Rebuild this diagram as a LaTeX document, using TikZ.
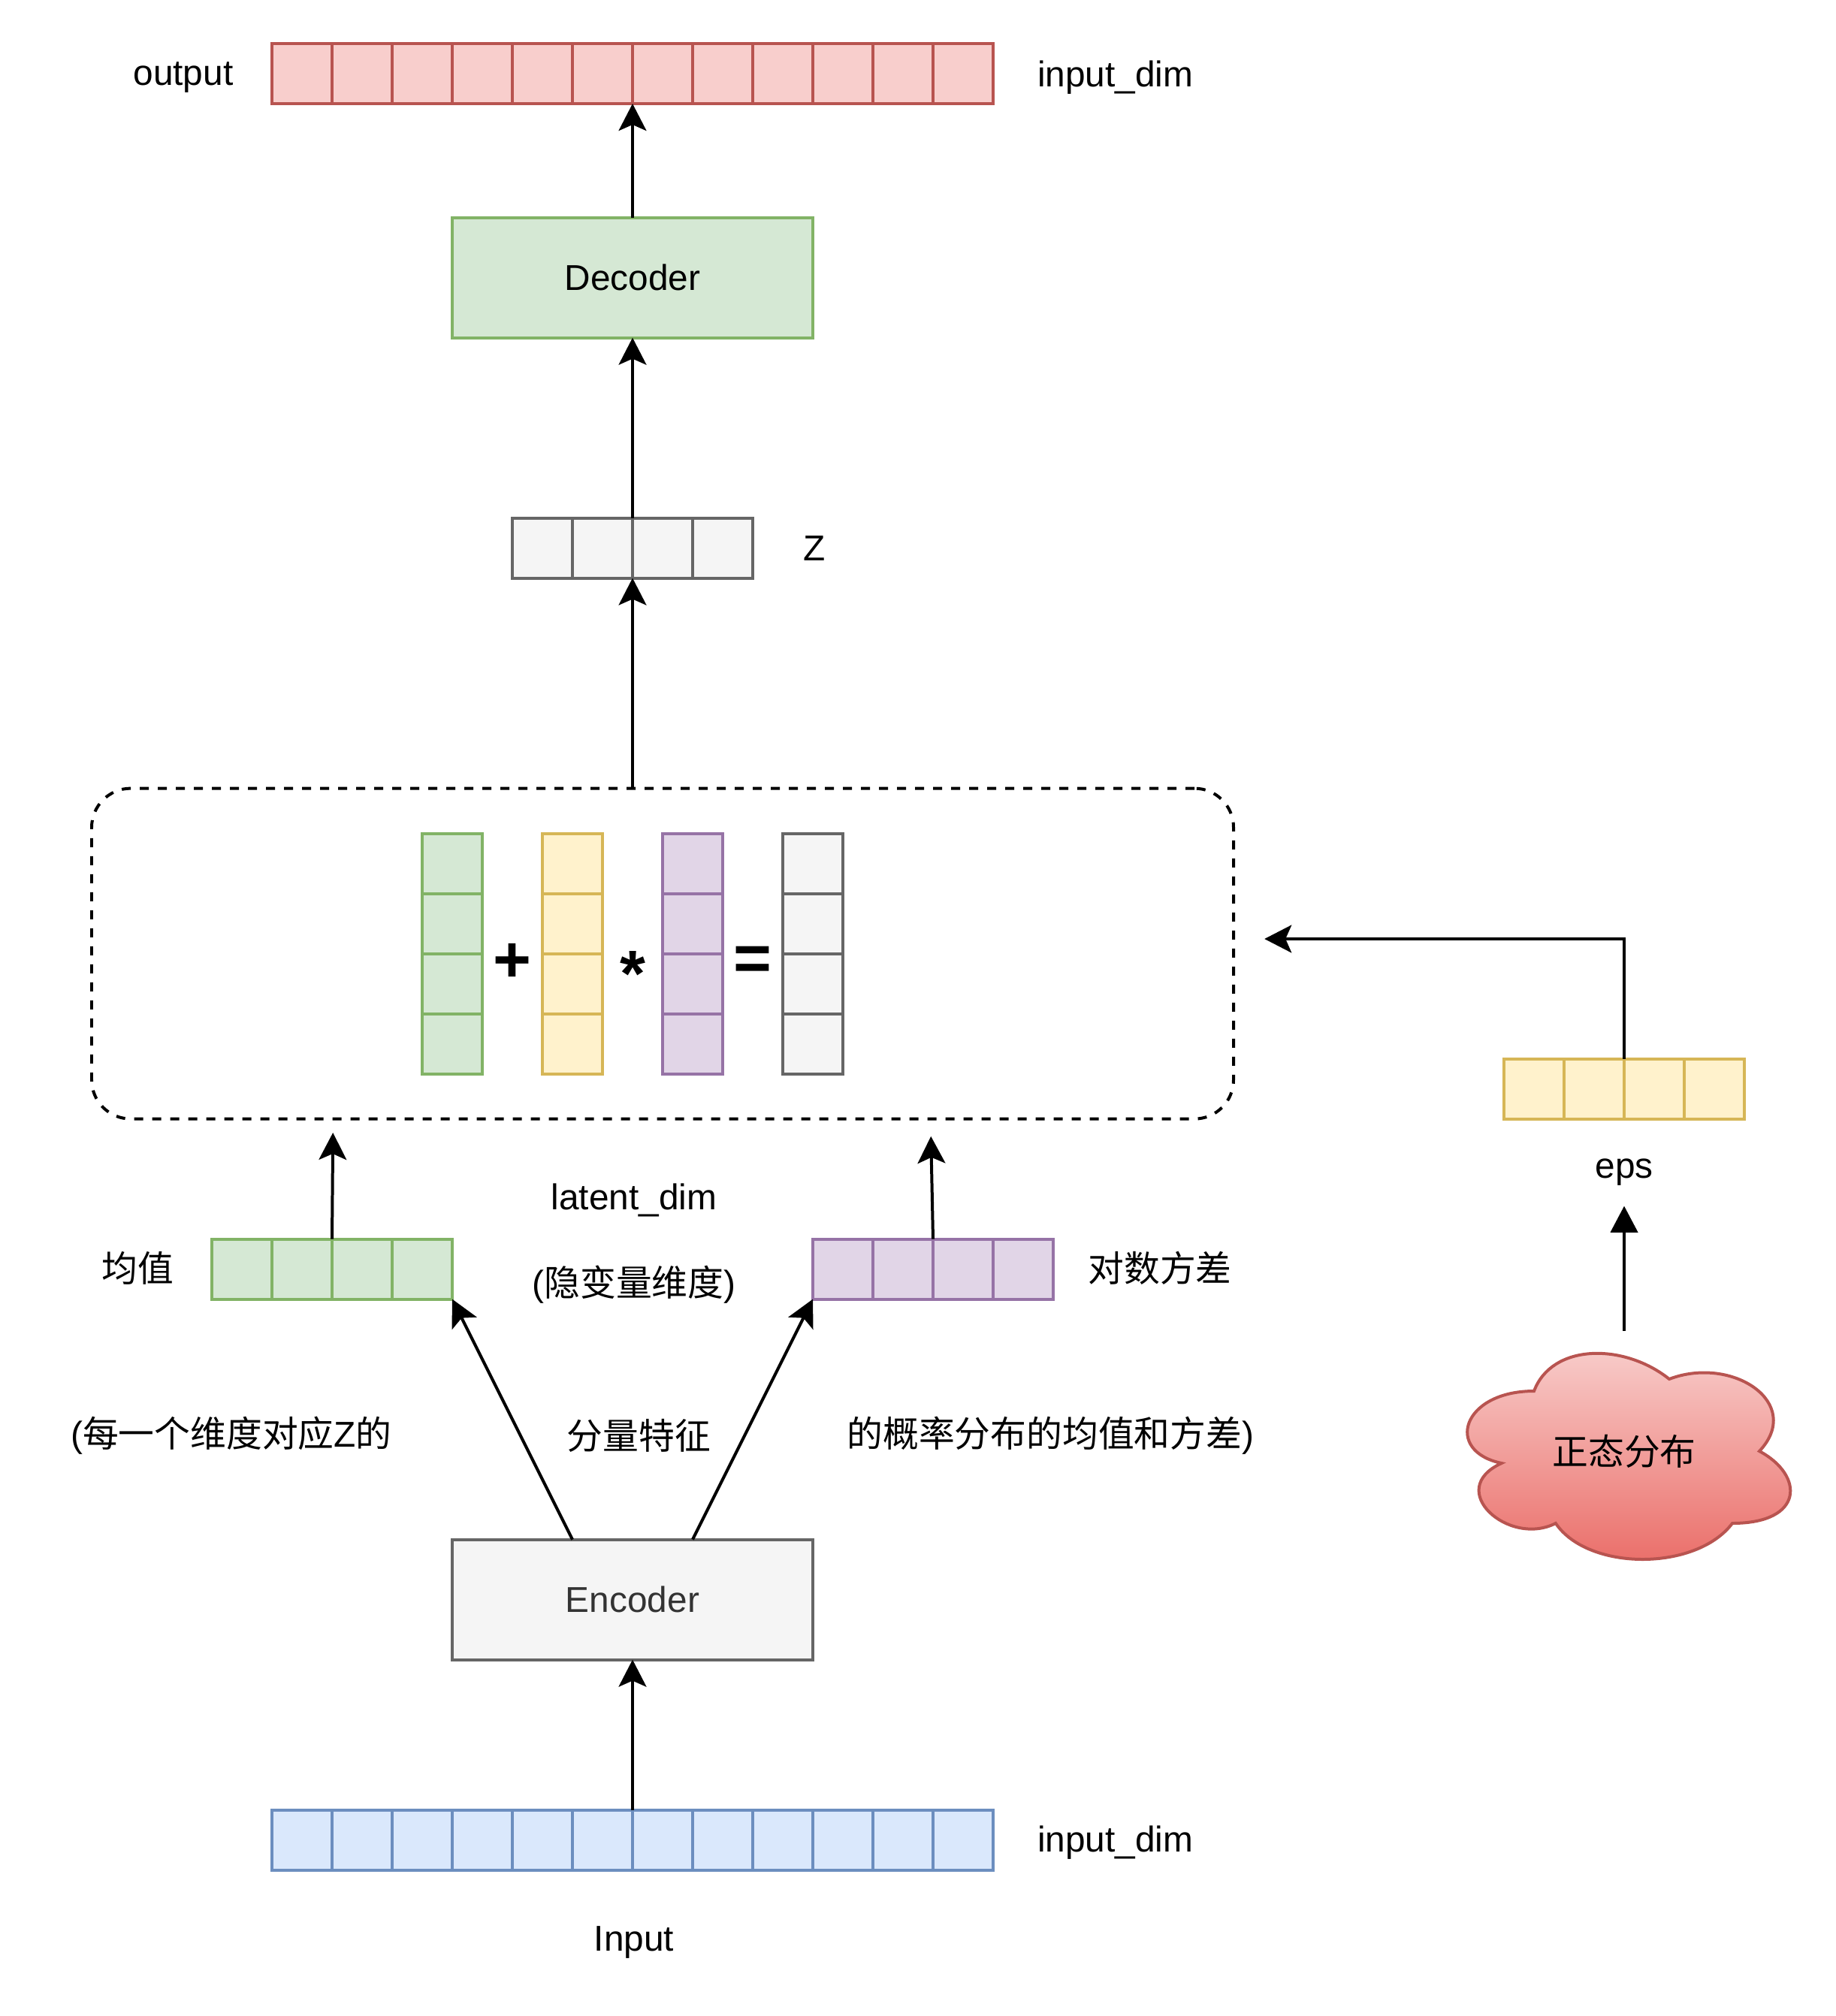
\documentclass[tikz,border=0pt]{standalone}
\usepackage{fontspec}
\setmainfont{Liberation Sans}
\newfontfamily\cjk{Noto Sans CJK SC}
\definecolor{redfill}{HTML}{F8CECC}
\definecolor{redline}{HTML}{B85450}
\definecolor{redbottom}{HTML}{EA6B66}
\definecolor{greenfill}{HTML}{D5E8D4}
\definecolor{greenline}{HTML}{82B366}
\definecolor{grayfill}{HTML}{F5F5F5}
\definecolor{grayline}{HTML}{666666}
\definecolor{graytext}{HTML}{333333}
\definecolor{yellowfill}{HTML}{FFF2CC}
\definecolor{yellowline}{HTML}{D6B656}
\definecolor{purplefill}{HTML}{E1D5E7}
\definecolor{purpleline}{HTML}{9673A6}
\definecolor{bluefill}{HTML}{DAE8FC}
\definecolor{blueline}{HTML}{6C8EBF}
\usetikzlibrary{arrows.meta, calc}
\newcommand{\cellrow}[5]
{
	\node[cellbar, fill=#5fill, draw=#5line, minimum width=#2cm] at (#3, #4) (#1){};
	\foreach \k in {2,...,#2}
		\draw[#5line, line width=1.42pt] ($(#1.north west)+(\k-1,0)$) -- ($(#1.south west)+(\k-1,0)$);
}
\newcommand{\cellcol}[5]
{
	\node[cellbar, fill=#5fill, draw=#5line, minimum height=#2cm] at (#3, #4) (#1){};
	\foreach \k in {2,...,#2}
		\draw[#5line, line width=1.42pt] ($(#1.north west)+(0,1-\k)$) -- ($(#1.north east)+(0,1-\k)$);
}

\begin{document}
\begin{tikzpicture}[
every node/.append style={font=\fontsize{17}{20}\selectfont, inner sep=0pt},
cellbar/.style={rectangle, line width=1.42pt, minimum width=1cm, minimum height=1cm, outer sep=0pt},
block/.style={rectangle, line width=1.42pt, minimum width=6cm, minimum height=2cm, outer sep=0pt},
flow/.style={-{Stealth[length=0.45cm, width=0.46cm, inset=0.1cm]}, line width=1.42pt},
opsign/.style={font=\fontsize{31}{36}\selectfont\bfseries, anchor=base}]

\useasboundingbox (0,0) rectangle (30.55,-33.55);

% output side
\cellrow{out}{12}{10.525}{-1.225}{red}
\node at (3.05, -1.29) (outlab){output};
\node at (18.56, -1.29) (outdim){input\_dim};
\node[block, fill=greenfill, draw=greenline] at (10.525, -4.62) (dec){Decoder};

\cellrow{z}{4}{10.525}{-9.12}{gray}
\node at (13.55, -9.12) (zlab){Z};

% sampling box
\node[draw, line width=1.42pt, dash pattern=on 0.15cm off 0.15cm, rounded corners=0.65cm,
	minimum width=19cm, minimum height=5.5cm, outer sep=0pt] at (11.025, -15.87) (rep){};
\cellcol{mucol}{4}{7.525}{-15.87}{green}
\cellcol{epscol}{4}{9.525}{-15.87}{yellow}
\cellcol{sdcol}{4}{11.525}{-15.87}{purple}
\cellcol{zcol}{4}{13.525}{-15.87}{gray}
\node[opsign] at (8.525, -16.34) (plus){+};
\node[opsign] at (10.525, -16.58) (times){*};
\node[opsign] at (12.525, -16.32) (equals){=};

% noise
\cellrow{eps}{4}{27.025}{-18.12}{yellow}
\node at (27.025, -19.51) (epslab){eps};
\coordinate (cloudnw) at (24.025, -22.15);
\begin{scope}[shift={(cloudnw)}, x=6cm, y=-4cm]
\draw[redline, line width=1.42pt, top color=redfill, bottom color=redbottom]
	(0.25,0.25) .. controls (0.05,0.25) and (0,0.5) .. (0.16,0.55)
	.. controls (0,0.66) and (0.18,0.9) .. (0.31,0.8)
	.. controls (0.4,1) and (0.7,1) .. (0.8,0.8)
	.. controls (1,0.8) and (1,0.6) .. (0.875,0.5)
	.. controls (1,0.3) and (0.8,0.1) .. (0.625,0.2)
	.. controls (0.5,0.05) and (0.3,0.05) .. (0.25,0.25) -- cycle;
\end{scope}
\node[minimum width=6cm, minimum height=4cm, outer sep=0pt] at (27.025, -24.15) (normal){\cjk 正态分布};
\coordinate (repin) at (21.04, -15.625);

% encoder side
\cellrow{mean}{4}{5.525}{-21.12}{green}
\cellrow{logvar}{4}{15.525}{-21.12}{purple}
\node at (2.29, -21.1) (meanlab){\cjk 均值};
\node at (19.3, -21.1) (logvarlab){\cjk 对数方差};
\node at (10.55, -19.98) (latentlab){latent\_dim};
\node at (10.55, -21.38) (latentcn){({\cjk 隐变量维度})};
\node at (3.85, -23.89) (notea){({\cjk 每一个维度对应}Z{\cjk 的}};
\node at (10.63, -23.89) (noteb){\cjk 分量特征};
\node at (17.48, -23.89) (notec){{\cjk 的概率分布的均值和方差})};
\coordinate (meanin) at (5.54, -18.85);
\coordinate (logvarin) at (15.49, -18.91);

\node[block, fill=grayfill, draw=grayline, text=graytext] at (10.525, -26.62) (enc){Encoder};
\cellrow{in}{12}{10.525}{-30.625}{blue}
\node at (18.56, -30.67) (indim){input\_dim};
\node at (10.55, -32.33) (inlab){Input};

\draw[flow] (dec) -- (out);
\draw[flow] (z) -- (dec);
\draw[flow] (rep.north -| z) -- (z.south);
\draw[flow] (eps.north) |- (repin);
\draw[-{Triangle[length=0.44cm, width=0.45cm]}, line width=1.42pt] (normal.north) -- ([yshift=-0.56cm]epslab.center);
\draw[flow] (mean.north) -- (meanin);
\draw[flow] (logvar.north) -- (logvarin);
\draw[flow] ([xshift=-1cm]enc.north) -- (mean.south east);
\draw[flow] ([xshift=1cm]enc.north) -- (logvar.south west);
\draw[flow] (in) -- (enc);
\end{tikzpicture}
\end{document}
